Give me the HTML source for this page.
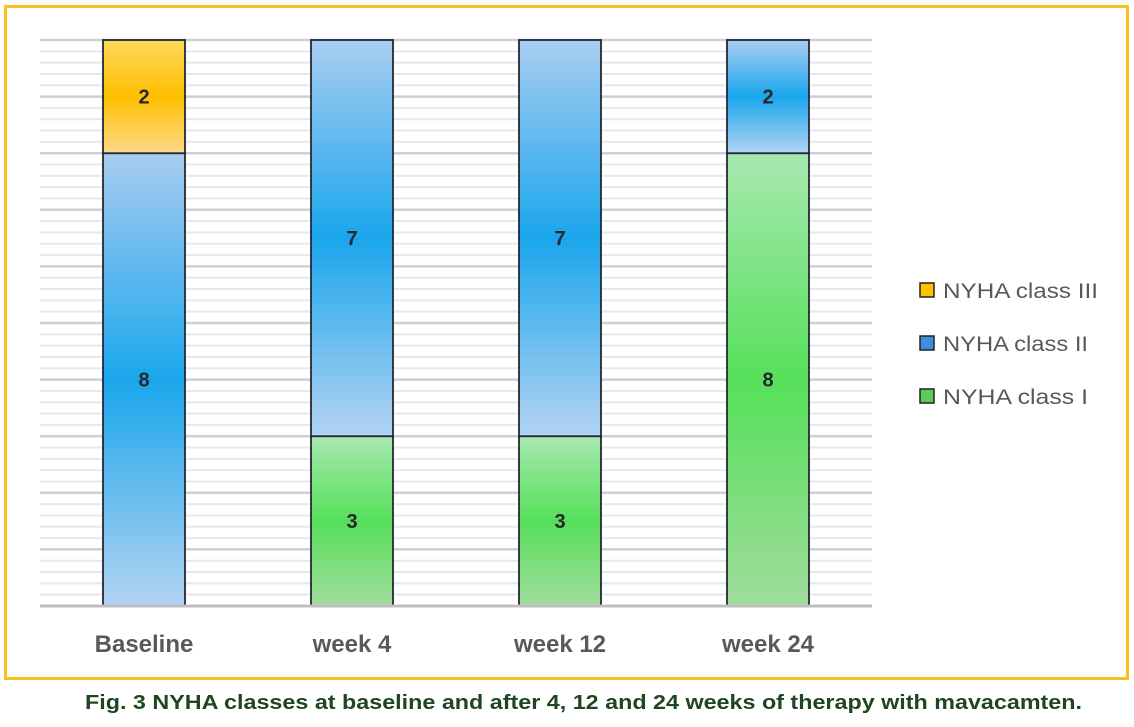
<!DOCTYPE html>
<html><head><meta charset="utf-8">
<style>
html,body{margin:0;padding:0;background:#fff;}
body{width:1134px;height:722px;overflow:hidden;font-family:"Liberation Sans",sans-serif;}
</style></head>
<body>
<svg id="chart" width="1134" height="722" xmlns="http://www.w3.org/2000/svg">
<defs>
<linearGradient id="gY" x1="0" y1="0" x2="0" y2="1"><stop offset="0" stop-color="#ffd75a"/><stop offset="0.5" stop-color="#ffbf00"/><stop offset="1" stop-color="#ffd98a"/></linearGradient>
<linearGradient id="gB" x1="0" y1="0" x2="0" y2="1"><stop offset="0" stop-color="#a9cdf0"/><stop offset="0.5" stop-color="#1aa6ec"/><stop offset="1" stop-color="#b3d3f2"/></linearGradient>
<linearGradient id="gG" x1="0" y1="0" x2="0" y2="1"><stop offset="0" stop-color="#a8e8b0"/><stop offset="0.5" stop-color="#56e05a"/><stop offset="1" stop-color="#a0dc9c"/></linearGradient>
</defs>
<rect x="5.5" y="6.5" width="1122" height="672" fill="none" stroke="#fbbf24" stroke-width="3"/>
<g id="grid"></g>
<g id="bars"></g>
<line x1="40" y1="606" x2="872" y2="606" stroke="#bfbfbf" stroke-width="3"/>
<g id="xlabels"></g>
<g>
<g><rect x="920" y="283" width="14" height="14" fill="#ffc000" stroke="#222" stroke-width="1.5"/><text x="943" y="298" font-size="21" fill="#595959" textLength="155" lengthAdjust="spacingAndGlyphs">NYHA class III</text></g>
<g><rect x="920" y="336" width="14" height="14" fill="#3c8fe0" stroke="#222" stroke-width="1.5"/><text x="943" y="351" font-size="21" fill="#595959" textLength="145" lengthAdjust="spacingAndGlyphs">NYHA class II</text></g>
<g><rect x="920" y="389" width="14" height="14" fill="#5ccb58" stroke="#222" stroke-width="1.5"/><text x="943" y="404" font-size="21" fill="#595959" textLength="145" lengthAdjust="spacingAndGlyphs">NYHA class  I</text></g>
</g>
<text x="85" y="709" font-size="20" font-weight="bold" fill="#1e4620" textLength="997" lengthAdjust="spacingAndGlyphs">Fig. 3 NYHA classes at baseline and after 4, 12 and 24 weeks of therapy with mavacamten.</text>
</svg>
<script>
const categories = ["Baseline", "week 4", "week 12", "week 24"];
const classI = [0, 3, 3, 8];
const classII = [8, 7, 7, 2];
const classIII = [2, 0, 0, 0];
const yMax = 10;

const NS = "http://www.w3.org/2000/svg";
const plotTop = 40, plotBottom = 606, plotLeft = 40, plotRight = 872;
const yScale = v => plotBottom - v / yMax * (plotBottom - plotTop);
const band = (plotRight - plotLeft) / categories.length;
const xCenter = i => plotLeft + band * (i + 0.5);
const barW = 82;

const grid = document.getElementById('grid');
for (let k = 0; k < yMax * 5; k++) {
  const y = yScale(k / 5 + 0.2);
  const major = ((k + 1) % 5 === 0);
  const ln = document.createElementNS(NS, 'line');
  
  
  ln.setAttribute('x1', plotLeft); ln.setAttribute('x2', plotRight);
  ln.setAttribute('y1', y); ln.setAttribute('y2', y);
  ln.setAttribute('stroke', major ? '#d0d0d0' : '#e8e8e8');
  ln.setAttribute('stroke-width', major ? 2.5 : 2);
  grid.appendChild(ln);
}

const bars = document.getElementById('bars');
const series = [
  {vals: classI, fill: 'url(#gG)', name: 'class-i'},
  {vals: classII, fill: 'url(#gB)', name: 'class-ii'},
  {vals: classIII, fill: 'url(#gY)', name: 'class-iii'}
];
categories.forEach((c, i) => {
  let base = 0;
  series.forEach(s => {
    const v = s.vals[i];
    if (v > 0) {
      const y0 = yScale(base), y1 = yScale(base + v);
      const r = document.createElementNS(NS, 'rect');
      
      
      r.setAttribute('x', xCenter(i) - barW / 2); r.setAttribute('width', barW);
      r.setAttribute('y', y1); r.setAttribute('height', y0 - y1);
      r.setAttribute('fill', s.fill); r.setAttribute('stroke', '#1f2a38'); r.setAttribute('stroke-width', 1.8);
      bars.appendChild(r);
      const t = document.createElementNS(NS, 'text');
      
      
      t.setAttribute('x', xCenter(i)); t.setAttribute('y', (y0 + y1) / 2 + 7);
      t.setAttribute('text-anchor', 'middle'); t.setAttribute('font-size', '20');
      t.setAttribute('font-weight', 'bold'); t.setAttribute('fill', '#262626');
      t.textContent = v;
      bars.appendChild(t);
    }
    base += v;
  });
});

const xl = document.getElementById('xlabels');
categories.forEach((c, i) => {
  const t = document.createElementNS(NS, 'text');
  
  
  t.setAttribute('x', xCenter(i)); t.setAttribute('y', 652);
  t.setAttribute('text-anchor', 'middle'); t.setAttribute('font-size', '24');
  t.setAttribute('font-weight', 'bold'); t.setAttribute('fill', '#595959');
  t.textContent = c;
  xl.appendChild(t);
});
</script>
</body></html>
